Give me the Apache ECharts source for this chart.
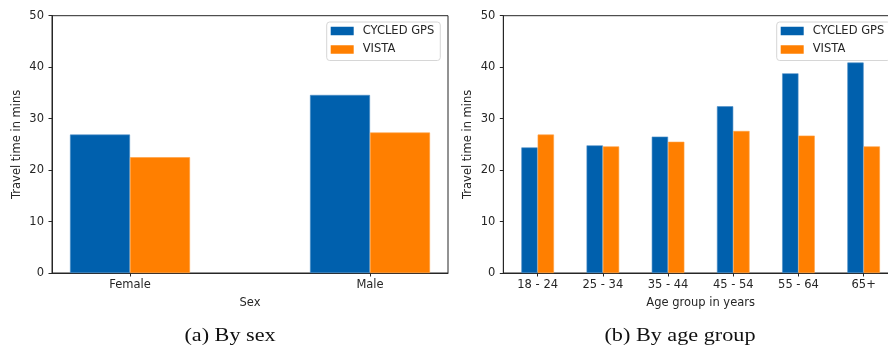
<!DOCTYPE html>
<html>
<head>
<meta charset="utf-8">
<script src="https://cdn.jsdelivr.net/npm/echarts@6/dist/echarts.min.js"></script>
<style>
  html, body { margin: 0; padding: 0; background: #fff; }
  #chart { width: 888px; height: 348px; }
</style>
</head>
<body>
<div id="chart"></div>
<script>
// Mean travel time (minutes) by sex
const sexCategories = ['Female', 'Male'];
const sexGps = [26.9, 34.6];
const sexVista = [22.5, 27.3];

// Mean travel time (minutes) by age group
const ageCategories = ['18 - 24', '25 - 34', '35 - 44', '45 - 54', '55 - 64', '65+'];
const ageGps = [24.4, 24.8, 26.5, 32.4, 38.8, 40.9];
const ageVista = [26.9, 24.6, 25.5, 27.6, 26.7, 24.6];

const yTicks = [0, 10, 20, 30, 40, 50];
const seriesNames = ['CYCLED GPS', 'VISTA'];
const captions = ['(a) By sex', '(b) By age group'];

const BLUE = '#0060ad';
const ORANGE = '#ff7f00';
const INK = '#262626';
const FONT = 'DejaVu Sans';

// panel geometry (px); the age panel runs past the right edge of the page
const panels = [
  { left: 52, top: 15.7, width: 396, height: 257.3, xMin: -0.325, xMax: 1.325 },
  { left: 503.3, top: 15.7, width: 394.7, height: 257.3, xMin: -0.527, xMax: 5.527 }
];

const chart = echarts.init(document.getElementById('chart'), null, { renderer: 'canvas' });

function pairs(values) { return values.map((v, i) => [i, v]); }

const grids = panels.map(p => ({
  left: p.left, top: p.top, width: p.width, height: p.height,
  show: true, borderColor: INK, borderWidth: 1, backgroundColor: 'transparent',
  containLabel: false, outerBoundsMode: 'none'
}));

function xAxis(idx, cats, name, nameGap) {
  const p = panels[idx];
  const idxs = cats.map((_, i) => i);
  return {
    type: 'value', gridIndex: idx, min: p.xMin, max: p.xMax,
    name: name, nameLocation: 'middle', nameGap: nameGap,
    nameTextStyle: { fontFamily: FONT, fontSize: 11.5, color: INK },
    axisLine: { show: true, onZero: false, lineStyle: { color: INK, width: 1 } },
    axisTick: { show: true, length: 3.5, lineStyle: { color: INK }, customValues: idxs },
    axisLabel: {
      show: true, customValues: idxs, margin: 6,
      fontFamily: FONT, fontSize: 11.5, color: INK,
      formatter: v => cats[Math.round(v)]
    },
    splitLine: { show: false }
  };
}

function yAxis(idx) {
  return {
    type: 'value', gridIndex: idx, min: yTicks[0], max: yTicks[yTicks.length - 1],
    interval: yTicks[1] - yTicks[0],
    name: 'Travel time in mins', nameLocation: 'middle', nameGap: 29,
    nameTextStyle: { fontFamily: FONT, fontSize: 11.5, color: INK },
    axisLine: { show: true, onZero: false, lineStyle: { color: INK, width: 1 } },
    axisTick: { show: true, length: 3.5, lineStyle: { color: INK } },
    axisLabel: { margin: 8, fontFamily: FONT, fontSize: 11.5, color: INK },
    splitLine: { show: false }
  };
}

function barW(idx) {
  const p = panels[idx];
  return 0.25 * p.width / (p.xMax - p.xMin);
}

function barSeries(idx, name, values, color) {
  return {
    type: 'bar', name: name, xAxisIndex: idx, yAxisIndex: idx,
    data: pairs(values), barWidth: barW(idx), barGap: '0%',
    itemStyle: { color: color, borderColor: color === BLUE ? '#4d8fc8' : '#ffa040', borderWidth: 0.6 },
    emphasis: { disabled: true },
    animation: false
  };
}

function legend(idx) {
  const p = panels[idx];
  return {
    orient: 'vertical',
    left: p.left + p.width - 5.7 - 115.6, top: 22,
    padding: [2, 6, 4, 4],
    itemGap: 4.5, itemWidth: 23, itemHeight: 8.5, icon: 'rect',
    itemStyle: { borderWidth: 0 },
    backgroundColor: 'rgba(255,255,255,0.85)',
    borderColor: '#d6d6d6', borderWidth: 1, borderRadius: 3,
    textStyle: { fontFamily: FONT, fontSize: 11.5, color: INK, lineHeight: 14, padding: [0, 0, 0, 4] },
    data: seriesNames.map(n => ({ name: n })),
    selectedMode: false
  };
}

function caption(text, cx) {
  return {
    type: 'text', x: cx, y: 336, scaleX: 1.2,
    style: {
      text: text, x: 0, y: 0, align: 'center', verticalAlign: 'middle',
      font: '18.5px "Liberation Serif"', fill: '#111'
    }
  };
}

chart.setOption({
  animation: false,
  grid: grids,
  xAxis: [xAxis(0, sexCategories, 'Sex', 24), xAxis(1, ageCategories, 'Age group in years', 24)],
  yAxis: [yAxis(0), yAxis(1)],
  legend: [legend(0), legend(1)],
  series: [
    barSeries(0, seriesNames[0], sexGps, BLUE),
    barSeries(0, seriesNames[1], sexVista, ORANGE),
    barSeries(1, seriesNames[0], ageGps, BLUE),
    barSeries(1, seriesNames[1], ageVista, ORANGE)
  ],
  graphic: [caption(captions[0], 230), caption(captions[1], 680)]
});
</script>
</body>
</html>
